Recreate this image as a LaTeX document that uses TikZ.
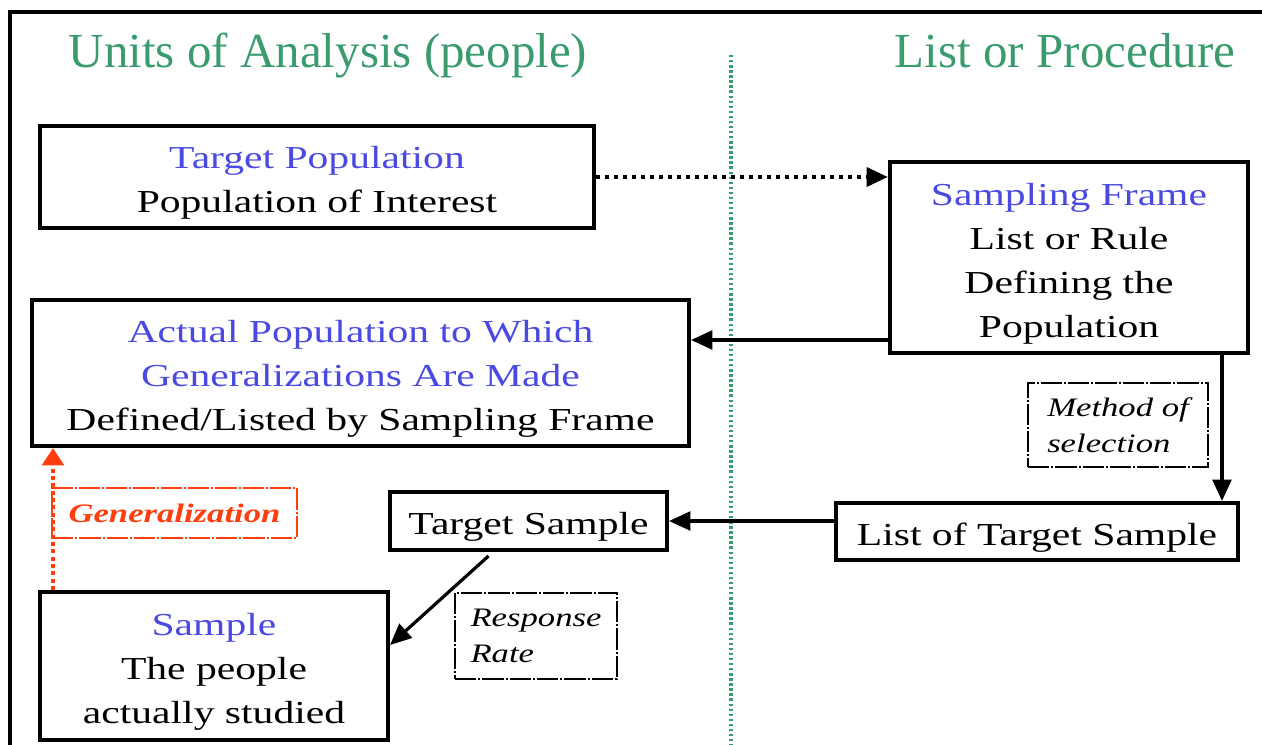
\documentclass[tikz,border=0pt]{standalone}
\usepackage{fontspec}
\setmainfont{Liberation Serif}
\newfontfamily\boxfont[FakeStretch=1.3]{Liberation Serif}
\usetikzlibrary{arrows.meta}
\definecolor{headgreen}{HTML}{3A9C6E}
\definecolor{keyblue}{HTML}{4A4AE2}
\definecolor{genred}{HTML}{FF3D0D}
% taller first line, which lowers the text block a little inside its box
\newcommand{\lowtop}{\rule{0pt}{25.5pt}}

\begin{document}
\begin{tikzpicture}[x=0.75pt,y=-0.75pt,
  box/.style={draw, line width=3pt, align=center, inner sep=0pt,
    font=\boxfont\fontsize{24}{33}\selectfont},
  tag/.style={draw, line width=1.6pt,
    dash pattern=on 16pt off 1.5pt on 1.5pt off 1.5pt,
    align=left, inner sep=0pt,
    font=\boxfont\itshape\fontsize{20}{27}\selectfont},
  head/.style={text=headgreen, font=\fontsize{36.75}{40}\selectfont,
    anchor=base, inner sep=0pt},
  arr/.style={line width=2.4pt, -{Triangle[length=16pt,width=14pt]}},
  dotarr/.style={line width=3.3pt, dash pattern=on 3pt off 3.75pt,
    -{Triangle[length=16pt,width=14pt]}},
  genarr/.style={genred, line width=3.3pt, dash pattern=on 3pt off 2.5pt,
    -{Triangle[length=13pt,width=16pt]}},
  divider/.style={headgreen, line width=2.3pt, dash pattern=on 1.8pt off 2pt},
  frame/.style={line width=2.6pt}
]
% page area
\useasboundingbox (0,0) rectangle (1262,745);

% outer frame and column divider
\coordinate (fa) at (8,12);
\coordinate (fb) at (1262,12);
\coordinate (fc) at (10,12);
\coordinate (fd) at (10,745);
\draw[frame] (fa) -- (fb);
\draw[frame] (fc) -- (fd);
\coordinate (d1) at (731,55);
\coordinate (d2) at (731,745);
\draw[divider] (d1) -- (d2);

% column headings
\node[head] (hleft) at (328,68) {Units of Analysis (people)};
\node[head] (hright) at (1065,68) {List or Procedure};

% boxes
\node[box, minimum width=415.5pt, minimum height=76.5pt] (tp) at (317,177)
  {\lowtop\textcolor{keyblue}{Target Population}\\Population of Interest};
\node[box, minimum width=268.5pt, minimum height=143.25pt] (sf) at (1069,257.5)
  {\lowtop\textcolor{keyblue}{Sampling Frame}\\List or Rule\\Defining the\\Population};
\node[box, minimum width=492.75pt, minimum height=109.5pt] (ap) at (360.5,373)
  {\lowtop\textcolor{keyblue}{Actual Population to Which}\\
   \textcolor{keyblue}{Generalizations Are Made}\\
   Defined/Listed by Sampling Frame};
\node[box, minimum width=207.75pt, minimum height=43.5pt] (ts) at (528.5,521)
  {\lowtop Target Sample};
\node[box, minimum width=301.5pt, minimum height=42.75pt] (lts) at (1037,531.5)
  {\lowtop List of Target Sample};
\node[box, minimum width=261pt, minimum height=111pt] (sm) at (214,666)
  {\lowtop\textcolor{keyblue}{Sample}\\The people\\actually studied};

% connector labels
\node[tag, minimum width=135pt, minimum height=63pt] (ms) at (1118,425)
  {Method of\\selection};
\node[tag, minimum width=121.5pt, minimum height=64.5pt] (rr) at (536,636)
  {Response\\Rate};
\node[tag, draw=genred, text=genred, minimum width=183.75pt, minimum height=37.5pt,
  font=\boxfont\bfseries\itshape\fontsize{20}{27}\selectfont] (gen) at (174.5,513)
  {Generalization};

% connectors
\draw[dotarr] (tp.east) -- (sf.west |- tp.east);
\coordinate (c1) at ([yshift=11.25pt]sf.south west);
\draw[arr] (c1) -- (ap.east |- c1);
\coordinate (c2) at ([xshift=-21pt]sf.south east);
\draw[arr] (c2) -- (lts.north -| c2);
\draw[arr] (lts.west |- ts.east) -- (ts.east);
\coordinate (c3) at ([xshift=-30pt,yshift=-3pt]ts.south);
\coordinate (c4) at ([yshift=15.75pt]sm.east);
\draw[arr] (c3) -- (c4);
\coordinate (c5) at ([xshift=11.25pt]sm.north west);
\draw[genarr] (c5) -- (ap.south -| c5);
\end{tikzpicture}
\end{document}
